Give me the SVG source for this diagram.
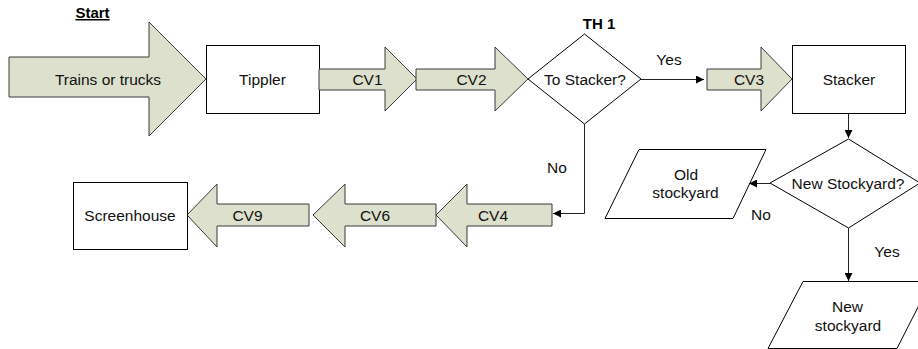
<svg xmlns="http://www.w3.org/2000/svg" width="918" height="349" viewBox="0 0 918 349">
  <style>
    .box { fill: #ffffff; stroke: #000000; stroke-width: 1; }
    .belt { fill: #dde0cc; stroke: #3a3a3a; stroke-width: 1; stroke-linejoin: miter; }
    .link { fill: none; stroke: #222222; stroke-width: 1; }
    .lbl { font-family: "Liberation Sans", Arial, sans-serif; font-size: 15.5px; fill: #111111; text-anchor: middle; }
    .hdr { font-family: "Liberation Sans", Arial, sans-serif; font-size: 15px; font-weight: bold; fill: #000000; text-anchor: middle; }
  </style>
  <defs>
    <marker id="tip" viewBox="0 0 10 10" refX="10" refY="5" markerWidth="9" markerHeight="8" markerUnits="userSpaceOnUse" orient="auto">
      <path d="M0,0 L10,5 L0,10 Z" fill="#000000"/>
    </marker>
  </defs>

  <rect width="918" height="349" fill="#ffffff"/>

  <!-- heading -->
  <g id="start">
    <text class="hdr" x="92.5" y="18" text-decoration="underline">Start</text>
  </g>

  <!-- incoming wagons -->
  <g id="trains">
    <polygon class="belt" points="9,57 149,57 149,22 206,79 149,136 149,97 9,97"/>
    <text class="lbl" x="108" y="84.5">Trains or trucks</text>
  </g>

  <g id="tippler">
    <rect class="box" x="206.5" y="45.5" width="113" height="68"/>
    <text class="lbl" x="262.5" y="84.5">Tippler</text>
  </g>

  <g id="cv1">
    <polygon class="belt" points="319,69 385,69 385,47 417,79 385,111 385,90 319,90"/>
    <text class="lbl" x="367.5" y="84.5">CV1</text>
  </g>

  <g id="cv2">
    <polygon class="belt" points="416,69 495,69 495,47 528,79 495,111 495,90 416,90"/>
    <text class="lbl" x="471.5" y="84.5">CV2</text>
  </g>

  <g id="th1">
    <polygon class="box" points="584.5,34 641,79 584.5,124 528,79"/>
    <text class="lbl" x="585" y="84.5">To Stacker?</text>
    <text class="hdr" x="599" y="29">TH 1</text>
  </g>

  <g id="cv3">
    <polygon class="belt" points="707,69 761,69 761,47 792,79 761,111 761,90 707,90"/>
    <text class="lbl" x="749" y="84.5">CV3</text>
  </g>

  <g id="stacker">
    <rect class="box" x="792.5" y="45.5" width="113" height="68"/>
    <text class="lbl" x="849" y="84.5">Stacker</text>
  </g>

  <g id="new-stockyard-check">
    <polygon class="box" points="848.5,139 920,183 848.5,228 770,183"/>
    <text class="lbl" x="848" y="188.5">New Stockyard?</text>
  </g>

  <g id="old-stockyard">
    <polygon class="box" points="639,149.5 766,149.5 733,218.5 605,218.5"/>
    <text class="lbl" x="686" y="179.5">Old</text>
    <text class="lbl" x="685.5" y="197.5">stockyard</text>
  </g>

  <g id="new-stockyard">
    <polygon class="box" points="803,281.5 931,281.5 897,348.5 768,348.5"/>
    <text class="lbl" x="847.5" y="312">New</text>
    <text class="lbl" x="848" y="331">stockyard</text>
  </g>

  <g id="cv4">
    <polygon class="belt" points="552,204 467,204 467,184 436,215 467,247 467,226 552,226"/>
    <text class="lbl" x="493" y="220.5">CV4</text>
  </g>

  <g id="cv6">
    <polygon class="belt" points="436,204 345,204 345,184 313,215 345,247 345,226 436,226"/>
    <text class="lbl" x="375" y="220.5">CV6</text>
  </g>

  <g id="cv9">
    <polygon class="belt" points="309,204 217,204 217,184 187,215 217,247 217,226 309,226"/>
    <text class="lbl" x="247.5" y="220.5">CV9</text>
  </g>

  <g id="screenhouse">
    <rect class="box" x="73.5" y="182.5" width="114" height="67"/>
    <text class="lbl" x="130" y="220.5">Screenhouse</text>
  </g>

  <!-- decision connectors -->
  <g id="connectors">
    <path class="link" d="M641,79.5 H704" marker-end="url(#tip)"/>
    <path class="link" d="M584.5,124 V213.5 H553" marker-end="url(#tip)"/>
    <path class="link" d="M848.5,113 V138" marker-end="url(#tip)"/>
    <path class="link" d="M770,183.5 H749" marker-end="url(#tip)"/>
    <path class="link" d="M848.5,228 V281" marker-end="url(#tip)"/>
    <text class="lbl" x="669" y="65">Yes</text>
    <text class="lbl" x="557" y="173">No</text>
    <text class="lbl" x="761" y="220">No</text>
    <text class="lbl" x="887" y="257">Yes</text>
  </g>
</svg>
